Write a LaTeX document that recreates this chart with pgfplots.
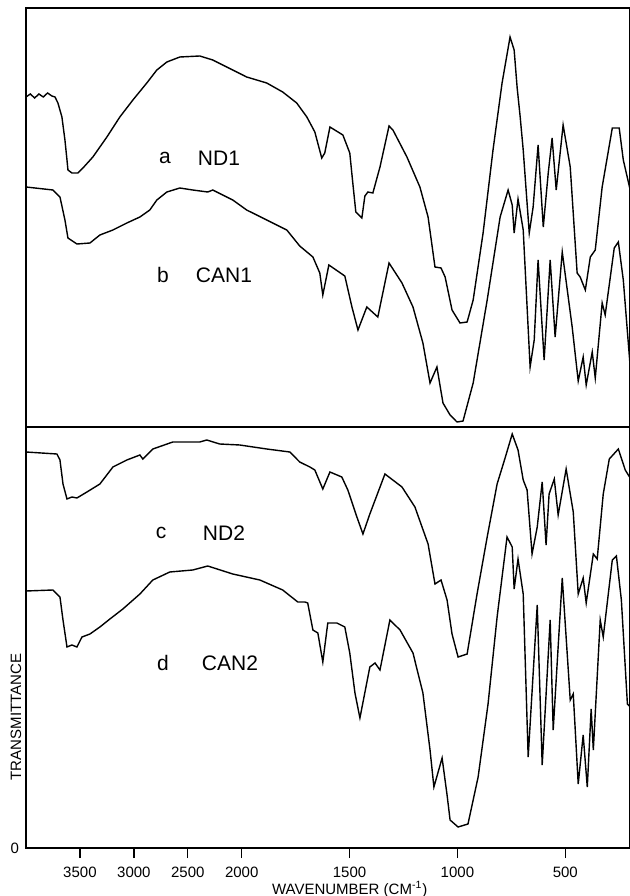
\documentclass[border=0pt]{standalone}
\usepackage{fontspec}
\setmainfont{Liberation Sans}
\usepackage{pgfplots}
\usepackage{pgfplotstable}
\pgfplotsset{compat=1.18}

% wavenumber (cm^-1) vs. transmittance (arbitrary units, offset per panel)
\pgfplotstableread{
wn T
4000 330
3960 333
3920 329
3880 333
3840 330
3800 334
3760 331
3731 330
3704 324
3667 310
3639 287
3620 267
3611 257
3574 254
3518 254
3472 259
3380 270
3250 290
3130 310
3009 327
2880 344
2787 357
2694 365
2574 370
2389 371
2268 367
2083 357
1977 350
1884 344
1810 335
1745 324
1698 310
1661 295
1629 269
1615 274
1591 300
1531 292
1499 274
1485 244
1471 215
1443 209
1429 231
1415 235
1392 234
1359 260
1317 301
1299 297
1234 270
1174 240
1136 210
1104 160
1076 159
1057 150
1025 117
988 104
955 105
927 127
881 194
835 277
793 344
756 390
737 377
723 339
709 310
695 277
667 194
649 220
626 282
602 200
579 254
561 289
542 237
510 302
477 260
445 154
431 150
407 137
384 170
361 177
329 240
282 299
250 299
231 267
199 237
}\specA

\pgfplotstableread{
wn T
4000 240
3750 237
3685 230
3639 207
3611 189
3528 183
3407 184
3315 192
3194 197
3065 204
2944 210
2852 217
2787 227
2694 235
2574 239
2454 237
2315 235
2268 237
2083 227
1977 217
1884 207
1791 197
1731 181
1670 170
1638 154
1624 132
1596 162
1522 151
1489 120
1461 97
1420 120
1369 110
1317 164
1257 144
1206 120
1160 84
1127 44
1095 60
1067 24
1034 12
1002 5
974 6
927 44
862 127
802 210
765 237
746 222
737 194
719 228
695 197
663 60
644 87
626 167
598 67
570 167
547 90
514 175
468 100
440 46
417 70
403 42
375 75
361 49
329 124
315 112
273 179
254 185
231 147
199 60
}\specB

\pgfplotstableread{
wn T
4000 396
3713 394
3685 388
3657 364
3620 349
3574 351
3528 350
3435 356
3315 364
3194 381
3065 388
2944 393
2917 389
2824 399
2639 406
2389 406
2324 408
2204 404
2018 403
1884 399
1777 396
1731 386
1684 381
1661 378
1624 359
1591 376
1536 371
1508 358
1466 331
1438 314
1406 334
1336 374
1257 361
1197 341
1136 304
1104 264
1076 268
1048 248
1025 214
997 191
955 194
909 254
862 311
816 364
779 390
746 414
719 398
695 368
677 358
654 294
630 321
607 366
589 303
575 354
551 369
533 333
496 379
463 336
440 254
417 270
403 245
370 294
352 289
324 354
296 389
254 399
222 378
199 370
}\specC

\pgfplotstableread{
wn T
4000 257
3750 258
3685 251
3657 228
3620 201
3574 203
3528 201
3481 211
3407 214
3315 221
3222 229
3102 239
2944 254
2824 268
2667 276
2454 278
2315 282
2083 274
1916 268
1810 258
1740 246
1707 246
1694 245
1670 218
1647 215
1624 186
1601 225
1559 225
1522 221
1499 195
1475 155
1452 130
1406 181
1382 185
1359 178
1313 228
1266 218
1206 195
1160 155
1127 98
1109 61
1071 90
1048 53
1034 28
997 21
951 24
904 71
858 144
816 231
770 311
746 301
737 259
719 289
695 254
672 91
630 243
607 83
570 228
556 118
514 270
477 148
463 154
440 64
417 113
398 61
380 139
370 98
338 228
324 211
282 288
263 292
240 248
212 144
199 141
}\specD

\pgfplotsset{
  irpanel/.style={
    width=302pt, scale only axis,
    xmin=0, xmax=5600, ymin=0,
    % scale changes at 2000 cm^-1 (double expansion below)
    x filter/.expression={x>=2000 ? 4000-x : 6000-2*x},
    axis line style={line width=0.8pt},
    /pgf/number format/assume math mode=true,
    tick label style={font=\fontsize{7.5}{9}\selectfont},
  },
  spec/.style={black, line width=0.7pt, mark=none},
}

\begin{document}
\begin{tikzpicture}
\useasboundingbox (0pt,0pt) rectangle (315pt,448pt);

\begin{axis}[irpanel,
    at={(13pt,234.5pt)}, anchor=south west,
    height=209.5pt, ymax=419,
    xtick=\empty, ytick=\empty,
]
\addplot[spec] table[x=wn, y=T] {\specA};
\addplot[spec] table[x=wn, y=T] {\specB};
\end{axis}

\begin{axis}[irpanel,
    at={(13pt,24pt)}, anchor=south west,
    height=210.5pt, ymax=421,
    xtick={500,1000,1500,2000,3000,4000,5000},
    xticklabels={3500,3000,2500,2000,1500,1000,500},
    ytick={0}, yticklabels={0},
    tick align=outside, tick pos=left,
    xtick style={line width=0.7pt, black},
    ytick style={draw=none},
    major tick length=5pt,
    xticklabel style={yshift=-1pt},
    yticklabel style={xshift=5pt},
    xlabel={WAVENUMBER (CM\textsuperscript{-1})},
    xlabel style={at={(rel axis cs:0.536,0)}, anchor=center, yshift=-20.5pt,
                  font=\fontsize{7.5}{9}\selectfont},
]
\addplot[spec] table[x=wn, y=T] {\specC};
\addplot[spec] table[x=wn, y=T] {\specD};
\end{axis}

\begin{scope}[every node/.style={font=\fontsize{10.5}{12}\selectfont}]
\node at (82.5pt,369pt) {a};
\node at (109.5pt,369pt) {ND1};
\node at (81.5pt,310.5pt) {b};
\node at (112pt,310.5pt) {CAN1};
\node at (80.5pt,181.5pt) {c};
\node at (112pt,181.5pt) {ND2};
\node at (81.5pt,116.5pt) {d};
\node at (115pt,116.5pt) {CAN2};
\end{scope}
\node[rotate=90, font=\fontsize{7.5}{9}\selectfont] at (8pt,89.5pt) {TRANSMITTANCE};
\end{tikzpicture}
\end{document}
